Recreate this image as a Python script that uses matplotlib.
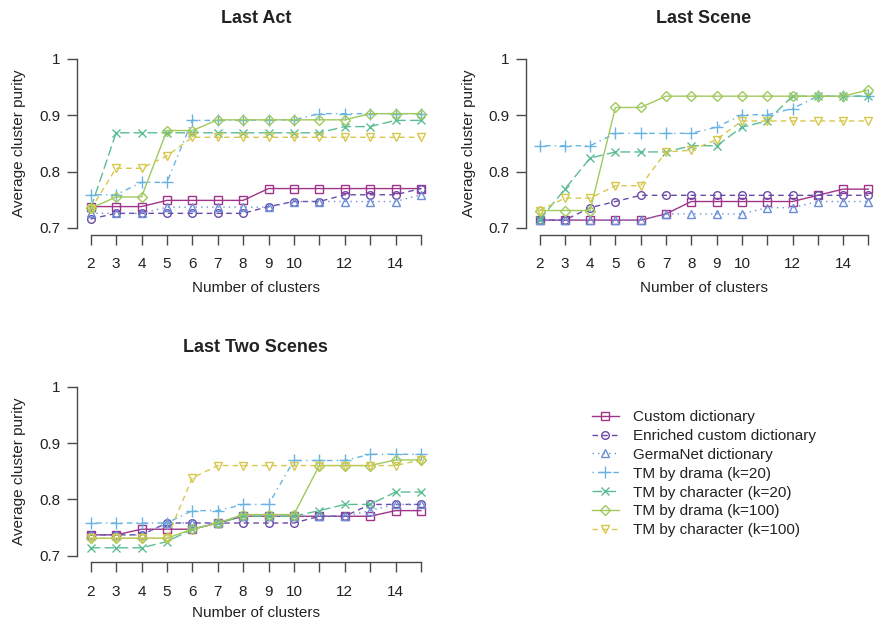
"""Average cluster purity for three text segments, redrawn from the paper figure."""

import matplotlib.pyplot as plt

plt.rcParams["font.family"] = ["Liberation Sans", "DejaVu Sans"]

FIG_W, FIG_H = 876, 626

clusters = list(range(2, 16))
x_tick_labels = ["2", "3", "4", "5", "6", "7", "8", "9", "10", "", "12", "", "14", ""]
y_ticks = [0.7, 0.8, 0.9, 1.0]
y_tick_labels = ["0.7", "0.8", "0.9", "1"]

series_names = [
    "Custom dictionary",
    "Enriched custom dictionary",
    "GermaNet dictionary",
    "TM by drama (k=20)",
    "TM by character (k=20)",
    "TM by drama (k=100)",
    "TM by character (k=100)",
]

# Last Act
custom_act = [0.738, 0.738, 0.738, 0.749, 0.749, 0.749, 0.749, 0.770, 0.770, 0.770, 0.770, 0.770, 0.770, 0.770]
enriched_act = [0.716, 0.726, 0.726, 0.726, 0.726, 0.726, 0.726, 0.738, 0.747, 0.747, 0.759, 0.759, 0.759, 0.770]
germanet_act = [0.726, 0.726, 0.726, 0.737, 0.737, 0.737, 0.737, 0.737, 0.747, 0.747, 0.747, 0.747, 0.747, 0.759]
drama20_act = [0.759, 0.759, 0.781, 0.781, 0.891, 0.891, 0.891, 0.892, 0.892, 0.903, 0.903, 0.903, 0.903, 0.903]
char20_act = [0.735, 0.869, 0.869, 0.869, 0.869, 0.869, 0.869, 0.869, 0.869, 0.869, 0.880, 0.880, 0.891, 0.891]
drama100_act = [0.735, 0.755, 0.755, 0.873, 0.873, 0.892, 0.892, 0.892, 0.892, 0.892, 0.892, 0.903, 0.903, 0.903]
char100_act = [0.733, 0.806, 0.806, 0.828, 0.861, 0.861, 0.861, 0.861, 0.861, 0.861, 0.861, 0.861, 0.861, 0.861]

# Last Scene
custom_scene = [0.714, 0.714, 0.714, 0.714, 0.714, 0.725, 0.747, 0.747, 0.747, 0.747, 0.747, 0.758, 0.769, 0.769]
enriched_scene = [0.714, 0.714, 0.736, 0.747, 0.758, 0.758, 0.758, 0.758, 0.758, 0.758, 0.758, 0.758, 0.758, 0.758]
germanet_scene = [0.714, 0.714, 0.714, 0.714, 0.714, 0.725, 0.725, 0.725, 0.725, 0.736, 0.736, 0.747, 0.747, 0.747]
drama20_scene = [0.846, 0.846, 0.846, 0.868, 0.868, 0.868, 0.868, 0.879, 0.901, 0.901, 0.912, 0.934, 0.934, 0.934]
char20_scene = [0.714, 0.769, 0.824, 0.835, 0.835, 0.835, 0.846, 0.846, 0.879, 0.890, 0.934, 0.934, 0.934, 0.934]
drama100_scene = [0.731, 0.731, 0.731, 0.914, 0.914, 0.934, 0.934, 0.934, 0.934, 0.934, 0.934, 0.934, 0.934, 0.945]
char100_scene = [0.731, 0.753, 0.753, 0.775, 0.775, 0.835, 0.838, 0.857, 0.890, 0.890, 0.890, 0.890, 0.890, 0.890]

# Last Two Scenes
custom_two = [0.737, 0.737, 0.747, 0.747, 0.747, 0.758, 0.770, 0.770, 0.770, 0.770, 0.770, 0.770, 0.780, 0.780]
enriched_two = [0.737, 0.737, 0.737, 0.758, 0.758, 0.758, 0.758, 0.758, 0.758, 0.770, 0.770, 0.791, 0.791, 0.791]
germanet_two = [0.737, 0.737, 0.737, 0.758, 0.758, 0.758, 0.770, 0.770, 0.770, 0.770, 0.770, 0.780, 0.791, 0.791]
drama20_two = [0.758, 0.758, 0.758, 0.758, 0.780, 0.780, 0.791, 0.791, 0.869, 0.869, 0.869, 0.880, 0.880, 0.880]
char20_two = [0.714, 0.714, 0.714, 0.725, 0.747, 0.758, 0.770, 0.770, 0.770, 0.780, 0.791, 0.791, 0.813, 0.813]
drama100_two = [0.731, 0.731, 0.731, 0.731, 0.747, 0.758, 0.773, 0.773, 0.773, 0.860, 0.860, 0.860, 0.870, 0.870]
char100_two = [0.731, 0.731, 0.731, 0.731, 0.838, 0.860, 0.860, 0.860, 0.860, 0.860, 0.860, 0.860, 0.860, 0.870]

panels = [
    ("Last Act", [custom_act, enriched_act, germanet_act, drama20_act, char20_act, drama100_act, char100_act]),
    ("Last Scene", [custom_scene, enriched_scene, germanet_scene, drama20_scene, char20_scene, drama100_scene, char100_scene]),
    ("Last Two Scenes", [custom_two, enriched_two, germanet_two, drama20_two, char20_two, drama100_two, char100_two]),
]

# R-like line types: solid, dashed, dotted, dotdash, longdash
STYLES = [
    dict(color="#a0348b", dashes=(), marker="s", ms=5.5),
    dict(color="#6a4ba8", dashes=(4, 3), marker="o", ms=5.5),
    dict(color="#6b8ed8", dashes=(1, 3), marker="^", ms=6),
    dict(color="#68b3e2", dashes=(1, 3, 4, 3), marker="+", ms=8),
    dict(color="#5cbd93", dashes=(7, 3), marker="x", ms=6),
    dict(color="#a0c95e", dashes=(), marker="D", ms=5),
    dict(color="#d8c74e", dashes=(4, 3), marker="v", ms=6),
]

AXIS_COLOR = "#4a4a4a"
TEXT_COLOR = "#222222"

# (x px of cluster 2, px per cluster, y px of purity 1.0)
PANEL_GEOM = [
    (90.7, 25.4, 59.0),
    (539.5, 25.3, 59.0),
    (90.7, 25.4, 386.7),
]
Y_SCALE = 563.3  # pixels per purity unit


def add_panel_axes(fig, x2_px, x_step, y1_px):
    """Axes sized so that the spines sit where R put them (4% padding)."""
    left = x2_px - 0.52 * x_step
    width = 14.04 * x_step
    top = y1_px - 0.012 * Y_SCALE
    height = 0.324 * Y_SCALE
    return fig.add_axes([left / FIG_W, 1 - (top + height) / FIG_H, width / FIG_W, height / FIG_H])


def draw_panel(ax, title, series, title_y, xlabel_y):
    for values, name, st in zip(series, series_names, STYLES):
        line, = ax.plot(
            clusters, values, color=st["color"], lw=1.0, marker=st["marker"], ms=st["ms"],
            mfc="none", mec=st["color"], mew=1.0, label=name,
        )
        if st["dashes"]:
            line.set_dashes(st["dashes"])

    ax.set_xlim(1.48, 15.52)
    ax.set_ylim(0.688, 1.012)
    ax.set_xticks(clusters)
    ax.set_xticklabels(x_tick_labels)
    ax.set_yticks(y_ticks)
    ax.set_yticklabels(y_tick_labels)

    for side in ("top", "right"):
        ax.spines[side].set_visible(False)
    ax.spines["left"].set_bounds(0.7, 1.0)
    ax.spines["bottom"].set_bounds(2, 15)
    for side in ("left", "bottom"):
        ax.spines[side].set_color(AXIS_COLOR)
        ax.spines[side].set_linewidth(1.0)

    ax.tick_params(axis="both", direction="out", length=7, width=1.0, color=AXIS_COLOR,
                   labelsize=11, labelcolor=TEXT_COLOR)
    ax.tick_params(axis="x", pad=9)
    ax.tick_params(axis="y", pad=5)

    ax.set_xlabel("Number of clusters", fontsize=11, color=TEXT_COLOR)
    ax.set_ylabel("Average cluster purity", fontsize=11, color=TEXT_COLOR)
    ax.xaxis.set_label_coords(0.5, xlabel_y)
    ax.yaxis.set_label_coords(-0.143, 0.5)

    ax.text(0.5, title_y, title, transform=ax.transAxes, ha="center", va="center",
            fontsize=13, fontweight="bold", color=TEXT_COLOR)


def main() -> None:
    fig = plt.figure(figsize=(FIG_W / 100, FIG_H / 100), dpi=100)

    title_offsets = [1.187, 1.187, 1.177]
    xlabel_offsets = [-0.255, -0.255, -0.24]
    axes = []
    for (title, series), geom, ty, xy in zip(panels, PANEL_GEOM, title_offsets, xlabel_offsets):
        ax = add_panel_axes(fig, *geom)
        draw_panel(ax, title, series, ty, xy)
        axes.append(ax)

    handles, labels = axes[0].get_legend_handles_labels()
    fig.legend(
        handles, labels, loc="upper left", bbox_to_anchor=(591.7 / FIG_W, 1 - 410 / FIG_H),
        frameon=False, fontsize=11, handlelength=1.8, handletextpad=0.9,
        labelspacing=0.32, borderpad=0, borderaxespad=0, numpoints=1, labelcolor=TEXT_COLOR,
    )

    fig.savefig("out.png", dpi=100)
    plt.close(fig)


if __name__ == "__main__":
    main()
